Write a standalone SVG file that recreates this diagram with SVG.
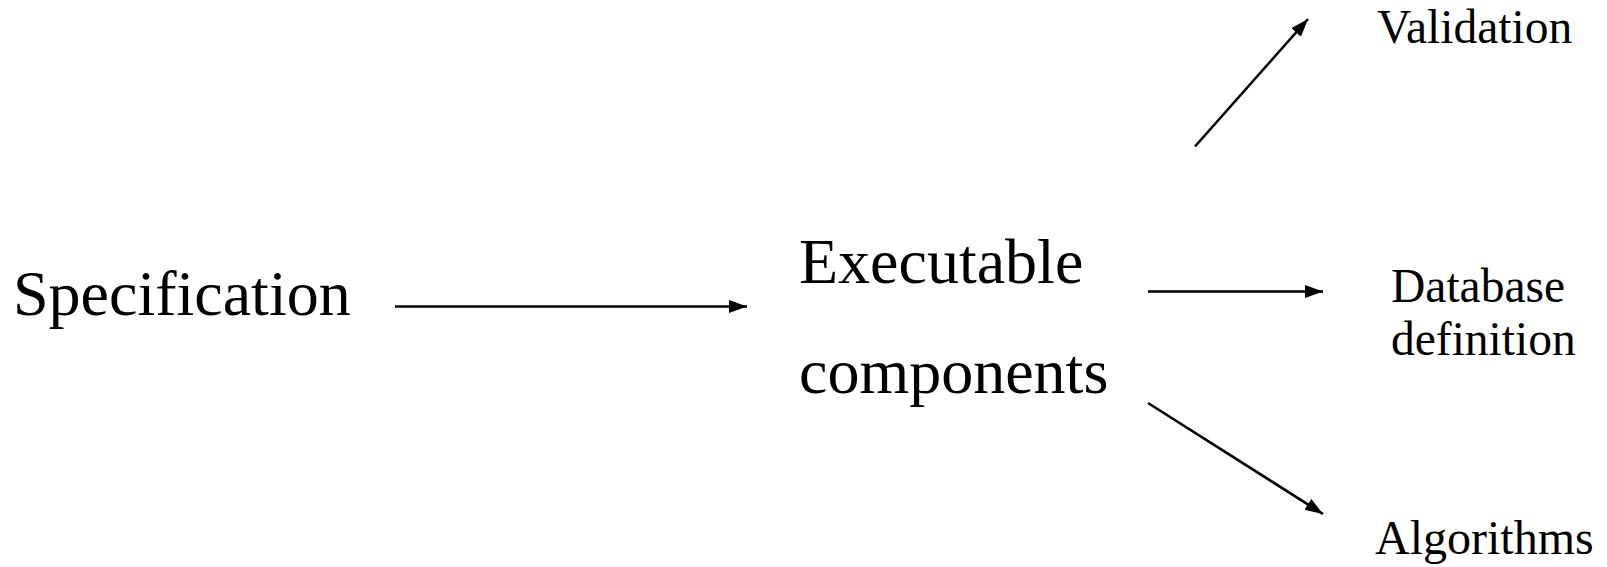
<svg xmlns="http://www.w3.org/2000/svg" width="1607" height="567" viewBox="0 0 1607 567">
  <style>
    text { font-family: "Liberation Serif", "Times New Roman", serif; fill: #000; }
    .big { font-size: 64px; }
    .small { font-size: 47.5px; }
    .conn { stroke: #000; stroke-width: 2.6; fill: none; }
  </style>
  <defs>
    <marker id="arrow" markerUnits="userSpaceOnUse" markerWidth="20" markerHeight="14" refX="18" refY="6.5" orient="auto">
      <path d="M0,0 L18,6.5 L0,13 Z" fill="#000"/>
    </marker>
  </defs>
  <rect width="1607" height="567" fill="#fff"/>
  <g id="connectors">
    <line class="conn" x1="395" y1="306.5" x2="747" y2="306.5" marker-end="url(#arrow)"/>
    <line class="conn" x1="1148" y1="291.5" x2="1323" y2="291.5" marker-end="url(#arrow)"/>
    <line class="conn" x1="1195" y1="146.5" x2="1308" y2="19" marker-end="url(#arrow)"/>
    <line class="conn" x1="1148" y1="403" x2="1323" y2="514" marker-end="url(#arrow)"/>
  </g>
  <g id="specification">
    <text class="big" x="13" y="315">Specification</text>
  </g>
  <g id="executable-components">
    <text class="big" x="799" y="283">Executable</text>
    <text class="big" x="799" y="393">components</text>
  </g>
  <g id="validation">
    <text class="small" x="1377" y="43">Validation</text>
  </g>
  <g id="database-definition">
    <text class="small" x="1391" y="302">Database</text>
    <text class="small" x="1391" y="355">definition</text>
  </g>
  <g id="algorithms">
    <text class="small" x="1375" y="554" style="font-size:48px">Algorithms</text>
  </g>
</svg>
